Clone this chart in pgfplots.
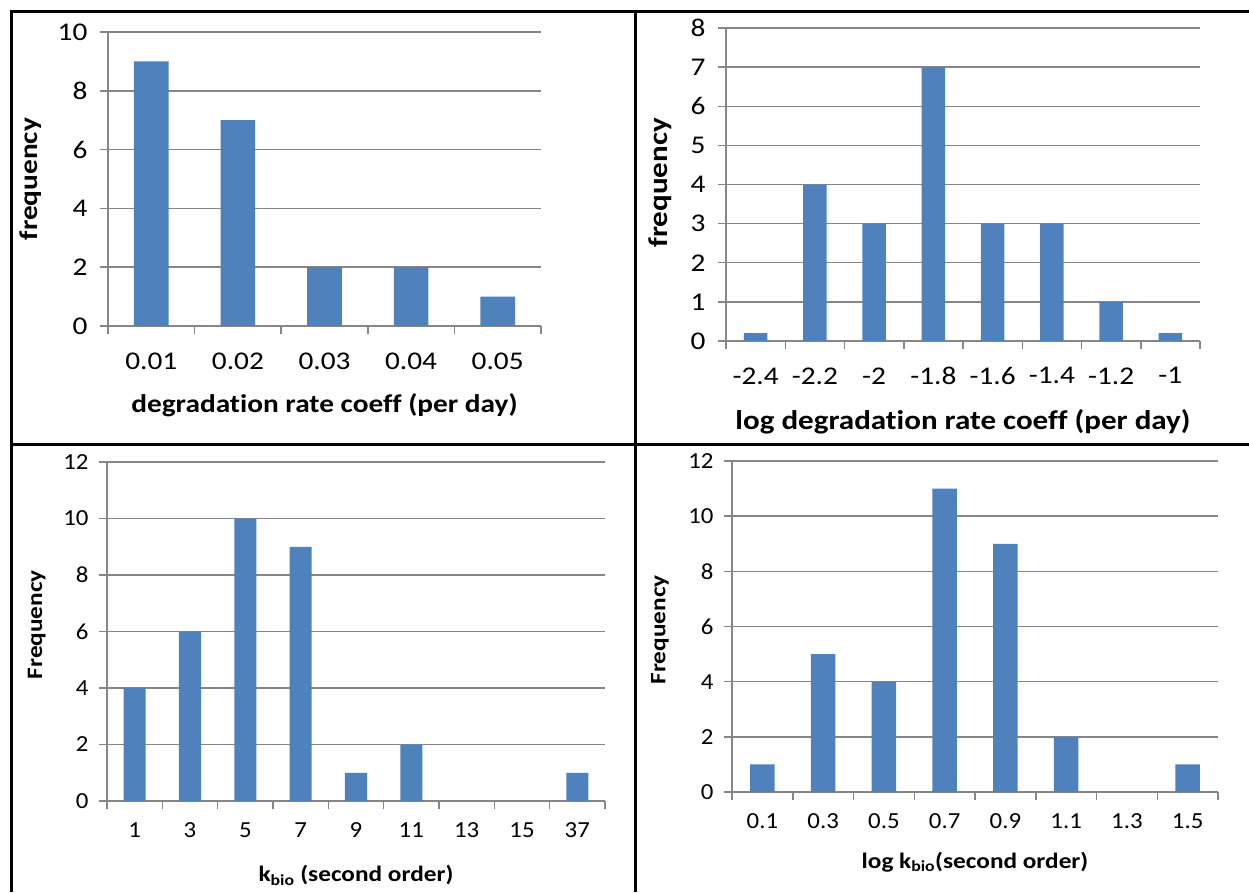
\documentclass[border=0pt]{standalone}
\usepackage{fontspec}
\setmainfont{Carlito}[FakeStretch=1.15, Ligatures=NoCommon]
\newfontfamily\botfont{Carlito}[FakeStretch=1.08]
\usepackage{pgfplots}
\pgfplotsset{compat=1.18}

\definecolor{barblue}{HTML}{4F81BD}
\definecolor{gridgray}{HTML}{868686}

\pgfplotsset{
  hist/.style={
    scale only axis,
    anchor=south west,
    axis lines*=left,
    axis line style={gridgray, line width=1.5pt, -},
    ymajorgrids,
    grid style={gridgray, line width=1.5pt},
    tick style={gridgray, line width=1.5pt},
    major tick length=8pt,
    tick align=outside,
    ybar, bar width=0.4,
    xmin=0, ymin=0,
    x tick label as interval,
    enlargelimits=false,
    /pgf/number format/assume math mode=true,
    xlabel style={anchor=center},
    ylabel style={anchor=center},
  },
  bigfont/.style={
    tick label style={font=\fontsize{25.5}{30}\selectfont},
    label style={font=\fontsize{27}{32}\selectfont\bfseries},
    xticklabel shift=15pt, yticklabel shift=9pt,
  },
  smallfont/.style={
    tick label style={font=\botfont\fontsize{23}{27}\selectfont},
    label style={font=\fontsize{22}{26}\selectfont\bfseries},
    xticklabel shift=10pt, yticklabel shift=7pt,
  },
}

\begin{document}
\begin{tikzpicture}
\useasboundingbox (0pt,0pt) rectangle (1249pt,892pt);

% table borders
\draw[line width=3pt] (11pt,0pt) -- (11pt,880pt) -- (1249pt,880pt);
\draw[line width=3pt] (635pt,0pt) -- (635pt,880pt);
\draw[line width=3pt] (11pt,447pt) -- (1249pt,447pt);

% top left
\begin{axis}[hist, bigfont,
  at={(108pt,566pt)},
  width=433pt, height=294pt,
  label style={font=\fontsize{25.5}{30}\selectfont\bfseries},
  xmax=5, ymax=10, ytick={0,2,...,10},
  xtick={0,...,5},
  xticklabels={0.01,0.02,0.03,0.04,0.05},
  xlabel={degradation rate coeff (per day)},
  ylabel={frequency},
  xlabel style={at={(axis description cs:0.5,-0.269)}},
  ylabel style={at={(axis description cs:-0.178,0.5)}},
]
\addplot[fill=barblue, draw=none] coordinates {(0.5,9) (1.5,7) (2.5,2) (3.5,2) (4.5,1)};
\end{axis}

% top right
\begin{axis}[hist, bigfont,
  at={(726pt,551pt)},
  width=474pt, height=313pt,
  xmax=8, ymax=8, ytick={0,...,8},
  xtick={0,...,8},
  xticklabels={-2.4,-2.2,-2,-1.8,-1.6,-1.4,-1.2,-1},
  xlabel={log degradation rate coeff (per day)},
  ylabel={frequency},
  xlabel style={at={(axis description cs:0.5,-0.259)}},
  ylabel style={at={(axis description cs:-0.139,0.505)}},
]
\addplot[fill=barblue, draw=none] coordinates {(0.5,0.2) (1.5,4) (2.5,3) (3.5,7) (4.5,3) (5.5,3) (6.5,1) (7.5,0.2)};
\end{axis}

% bottom left
\begin{axis}[hist, smallfont,
  at={(107pt,91pt)},
  width=498pt, height=339pt,
  xmax=9, ymax=12, ytick={0,2,...,12},
  xtick={0,...,9},
  xticklabels={1,3,5,7,9,11,13,15,37},
  xlabel={k\textsubscript{bio} (second order)},
  ylabel={Frequency},
  xlabel style={at={(axis description cs:0.5,-0.22)}},
  ylabel style={at={(axis description cs:-0.141,0.52)}},
]
\addplot[fill=barblue, draw=none] coordinates {(0.5,4) (1.5,6) (2.5,10) (3.5,9) (4.5,1) (5.5,2) (6.5,0) (7.5,0) (8.5,1)};
\end{axis}

% bottom right
\begin{axis}[hist, smallfont,
  at={(732pt,100pt)},
  width=486pt, height=331pt,
  xmax=8, ymax=12, ytick={0,2,...,12},
  xtick={0,...,8},
  xticklabels={0.1,0.3,0.5,0.7,0.9,1.1,1.3,1.5},
  xlabel={log k\textsubscript{bio}(second order)},
  ylabel={Frequency},
  xlabel style={at={(axis description cs:0.5,-0.211)}},
  ylabel style={at={(axis description cs:-0.148,0.49)}},
]
\addplot[fill=barblue, draw=none] coordinates {(0.5,1) (1.5,5) (2.5,4) (3.5,11) (4.5,9) (5.5,2) (6.5,0) (7.5,1)};
\end{axis}
\end{tikzpicture}
\end{document}
